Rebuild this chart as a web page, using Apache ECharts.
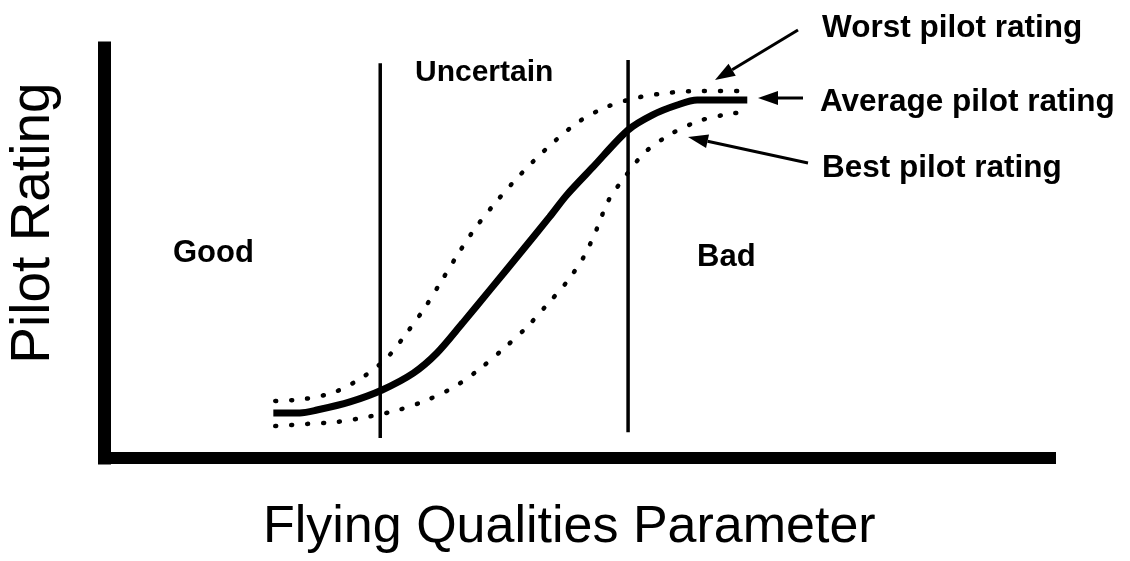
<!DOCTYPE html>
<html>
<head>
	<meta charset="utf-8">
	<title>Pilot Rating vs Flying Qualities Parameter</title>
	<script src="https://cdn.jsdelivr.net/npm/echarts@6/dist/echarts.min.js"></script>
	<style>
		html, body { margin: 0; padding: 0; background: #fff; }
	</style>
</head>
<body>
	<div id="main" style="width: 1130px; height: 561px"></div>
	<script type="text/javascript">
		// values: x = parameter (0-100), y = rating (0-10)
		var avgX   = [17.9, 20.7, 22.5, 26.0, 29.4, 32.7, 35.2, 37.9, 40.8, 44.0, 47.1, 48.9, 51.7, 55.4, 58.0, 60.6, 62.7, 68.0];
		var avgY   = [1.10, 1.10, 1.17, 1.37, 1.66, 2.07, 2.56, 3.29, 4.10, 5.00, 5.88, 6.41, 7.10, 8.00, 8.37, 8.61, 8.73, 8.73];
		var worstX = [18.1, 21.2, 24.4, 27.4, 29.9, 32.0, 33.9, 35.6, 37.3, 39.1, 41.1, 43.2, 45.4, 47.8, 50.3, 53.1, 56.2, 59.4, 62.7, 67.8];
		var worstY = [1.39, 1.44, 1.61, 1.98, 2.44, 3.05, 3.66, 4.29, 4.93, 5.56, 6.15, 6.71, 7.24, 7.76, 8.22, 8.56, 8.78, 8.90, 8.95, 8.95];
		var bestX  = [18.1, 21.4, 24.6, 27.8, 31.1, 34.1, 37.0, 39.7, 42.2, 44.6, 46.8, 48.9, 50.7, 52.1, 53.3, 55.2, 57.2, 59.9, 62.9, 66.0, 68.0];
		var bestY  = [0.78, 0.83, 0.88, 1.00, 1.17, 1.41, 1.73, 2.17, 2.66, 3.17, 3.73, 4.29, 4.90, 5.59, 6.27, 6.90, 7.46, 7.90, 8.22, 8.39, 8.44];
		// region boundaries (x) and their vertical extent (y low, y high)
		var boundX    = [29.2, 55.4];
		var boundLow  = [0.49, 0.63];
		var boundHigh = [9.63, 9.71];
		var regionNames = ['Good', 'Uncertain', 'Bad'];
		var curveNames  = ['Worst pilot rating', 'Average pilot rating', 'Best pilot rating'];

		function zip(xs, ys) {
			var out = [];
			for (var i = 0; i < xs.length; i++) out.push([xs[i], ys[i]]);
			return out;
		}

		var myChart = echarts.init(document.getElementById('main'));

		var dotted = {
			color: '#000',
			width: 4.5,
			type: [1, 15],
			cap: 'round'
		};

		var series = [
			{
				name: curveNames[1], type: 'line', data: zip(avgX, avgY),
				smooth: 0.3, symbol: 'none',
				lineStyle: { color: '#000', width: 7 }
			},
			{
				name: curveNames[0], type: 'line', data: zip(worstX, worstY),
				smooth: 0.3, symbol: 'none', lineStyle: dotted
			},
			{
				name: curveNames[2], type: 'line', data: zip(bestX, bestY),
				smooth: 0.3, symbol: 'none', lineStyle: dotted
			}
		];
		boundX.forEach(function (bx, i) {
			series.push({
				type: 'line', symbol: 'none',
				data: [[bx, boundLow[i]], [bx, boundHigh[i]]],
				lineStyle: { color: '#000', width: 3.5 }
			});
		});

		// arrow from (x1,y1) to tip (x2,y2)
		function arrow(x1, y1, x2, y2) {
			var dx = x2 - x1, dy = y2 - y1;
			var len = Math.sqrt(dx * dx + dy * dy);
			var ux = dx / len, uy = dy / len;
			var hl = 20, hw = 7;
			var bx = x2 - ux * hl, by = y2 - uy * hl;
			return [
				{ type: 'line', shape: { x1: x1, y1: y1, x2: bx, y2: by }, style: { stroke: '#000', lineWidth: 3 } },
				{ type: 'polygon', shape: { points: [[x2, y2], [bx - uy * hw, by + ux * hw], [bx + uy * hw, by - ux * hw]] }, style: { fill: '#000' } }
			];
		}

		function label(text, x, y, size) {
			return {
				type: 'text', x: x, y: y,
				style: {
					text: text, fill: '#000',
					font: 'bold ' + size + 'px "Liberation Sans", Arial, sans-serif',
					align: 'left', verticalAlign: 'middle'
				}
			};
		}

		var graphics = [
			label(regionNames[0], 173, 253, 31),
			label(regionNames[1], 415, 73, 30),
			label(regionNames[2], 697, 257, 31),
			label(curveNames[0], 822, 28, 31.5),
			label(curveNames[1], 820, 102, 31.5),
			label(curveNames[2], 822, 168, 31.5),
			{
				type: 'text', x: 263, y: 528,
				style: {
					text: 'Flying Qualities Parameter', fill: '#000',
					font: '52px "Liberation Sans", Arial, sans-serif',
					align: 'left', verticalAlign: 'middle'
				}
			},
			{
				type: 'text', x: 34, y: 223, rotation: Math.PI / 2,
				style: {
					text: 'Pilot Rating', fill: '#000',
					font: '55px "Liberation Sans", Arial, sans-serif',
					align: 'center', verticalAlign: 'middle'
				}
			}
		].concat(arrow(798, 30, 715, 80))
		 .concat(arrow(803, 98, 758, 98))
		 .concat(arrow(808, 163, 688, 137));

		option = {
			backgroundColor: '#fff',
			animation: false,
			grid: { left: 104, right: 80, top: 48, bottom: 103 },
			xAxis: {
				type: 'value', min: 0, max: 100,
				axisLine: { lineStyle: { color: '#000', width: 12, cap: 'square' } },
				axisTick: { show: false },
				axisLabel: { show: false },
				splitLine: { show: false }
			},
			yAxis: {
				type: 'value', min: 0, max: 10,
				axisLine: { show: true, lineStyle: { color: '#000', width: 13, cap: 'square' } },
				axisTick: { show: false },
				axisLabel: { show: false },
				splitLine: { show: false }
			},
			series: series,
			graphic: graphics
		};
		myChart.setOption(option);
	</script>
</body>
</html>
